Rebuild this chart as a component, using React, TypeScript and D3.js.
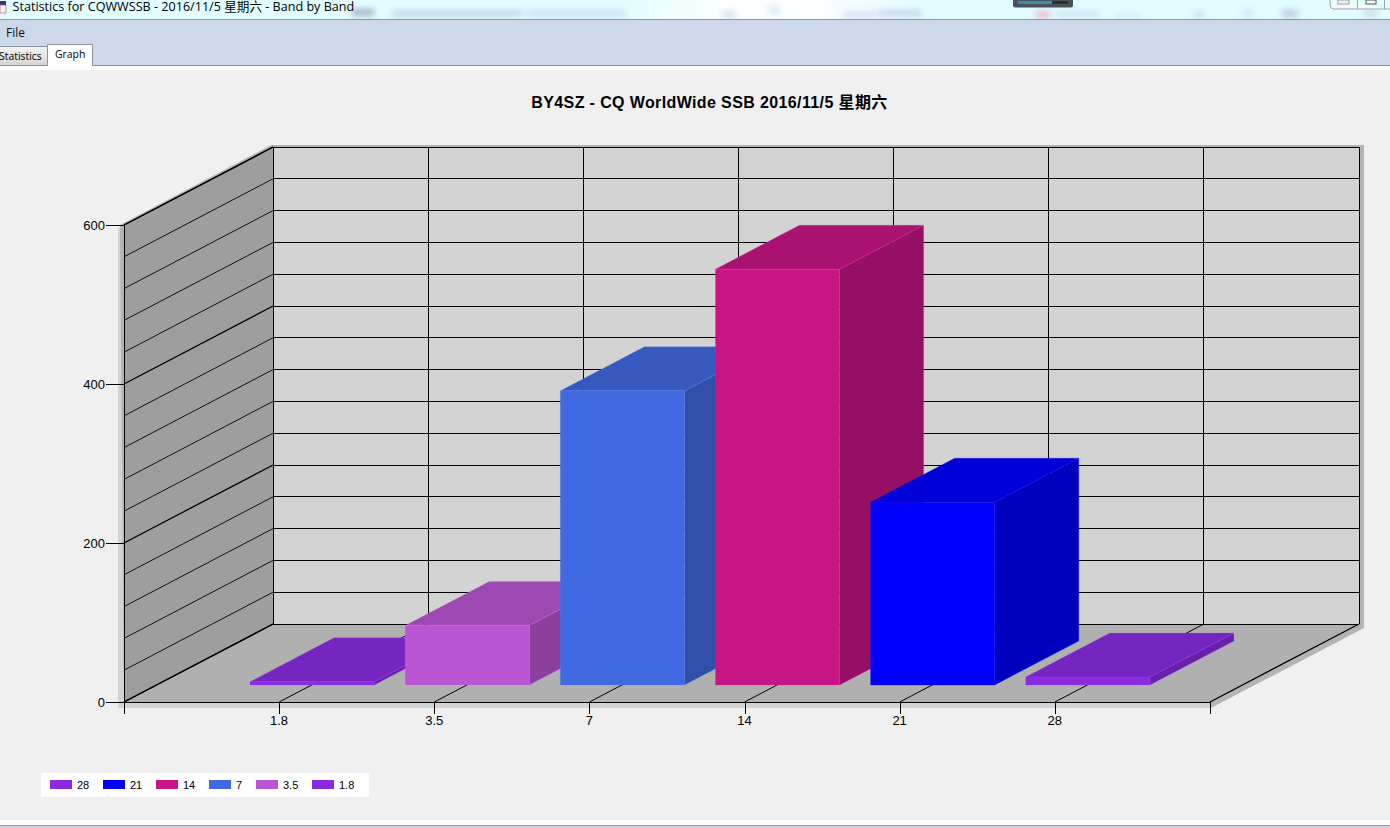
import { useEffect, useRef } from 'react';
import * as d3 from 'd3';

const bands = ['1.8', '3.5', '7', '14', '21', '28'];
const qsos = [4, 75, 370, 523, 230, 10];
const barColors = ['#8a2be2', '#ba55d3', '#4169e1', '#c71585', '#0000ff', '#8a2be2'];
const yMajor = [0, 200, 400, 600];
const yGrid = [0, 40, 80, 120, 160, 200, 240, 280, 320, 360, 400, 440, 480, 520, 560, 600];
const legendLabels = ['28', '21', '14', '7', '3.5', '1.8'];
const legendColors = ['#8a2be2', '#0000ff', '#c71585', '#4169e1', '#ba55d3', '#8a2be2'];

const UI_FONT = '"Open Sans", "Noto Sans CJK SC", sans-serif';
const CHART_FONT = '"Liberation Sans", "Noto Sans CJK SC", sans-serif';

const WIDTH = 1390;
const HEIGHT = 828;
const DEPTH_X = 149;
const DEPTH_Y = 78;

export default function App() {
  const chartRef = useRef<SVGGElement>(null);

  useEffect(() => {
    if (!chartRef.current) return;
    const g = d3.select(chartRef.current);
    g.selectAll('*').remove();

    // 7 slots on the axis, the bands sit on ticks 1..6
    const x = d3.scaleLinear().domain([0, 7]).range([124, 1210]);
    const y = d3.scaleLinear().domain([0, 600]).range([702, 225]);
    const project = (i: number, v: number, z: number): [number, number] => [
      x(i) + z * DEPTH_X,
      y(v) - z * DEPTH_Y,
    ];
    const poly = (pts: [number, number][]) => `M${pts.join('L')}Z`;

    const x0 = x(0);
    const x7 = x(7);
    const y0 = y(0);
    const y6 = y(600);

    // shadows
    g.append('path')
      .attr('fill', '#d3d3d3')
      .attr('d', poly([[118, y6 + 3], [x0, y6], [x0, y0], [x7, y0], [x7, y0 + 6], [118, y0 + 6]]));
    g.append('path')
      .attr('fill', '#b4b4b4')
      .attr('d', poly([
        [x0 - 4, y6], [x0 + DEPTH_X - 2, y6 - DEPTH_Y - 2], [x7 + DEPTH_X + 5, y6 - DEPTH_Y - 2],
        [x7 + DEPTH_X + 5, y0 - DEPTH_Y + 4], [x7 + 1, y0 + 6], [x7, y0], [x0, y0],
      ]));

    // walls and floor
    g.append('path')
      .attr('fill', '#d3d3d3')
      .attr('d', poly([project(0, 0, 1), project(7, 0, 1), project(7, 600, 1), project(0, 600, 1)]));
    g.append('path')
      .attr('fill', '#9e9e9e')
      .attr('d', poly([project(0, 0, 0), project(0, 0, 1), project(0, 600, 1), project(0, 600, 0)]));
    g.append('path')
      .attr('fill', '#b0b0b0')
      .attr('d', poly([project(0, 0, 0), project(7, 0, 0), project(7, 0, 1), project(0, 0, 1)]));

    // grid
    const line = d3.line();
    yGrid.forEach((v) => {
      const major = yMajor.includes(v);
      g.append('path')
        .attr('fill', 'none')
        .attr('stroke', '#000')
        .attr('stroke-width', 1)
        .attr('shape-rendering', 'crispEdges')
        .attr('d', line([project(0, v, 1), project(7, v, 1)]));
      g.append('path')
        .attr('fill', 'none')
        .attr('stroke', major ? '#000' : '#111')
        .attr('stroke-width', major ? 1.3 : 1)
        .attr('d', line([project(0, v, 0), project(0, v, 1)]));
    });
    d3.range(0, 8).forEach((i) => {
      g.append('path')
        .attr('fill', 'none')
        .attr('stroke', '#000')
        .attr('stroke-width', 1)
        .attr('shape-rendering', 'crispEdges')
        .attr('d', line([project(i, 0, 1), project(i, 600, 1)]));
      g.append('path')
        .attr('fill', 'none')
        .attr('stroke', '#000')
        .attr('stroke-width', i === 0 || i === 7 ? 1.3 : 1)
        .attr('d', line([project(i, 0, 0), project(i, 0, 1)]));
    });

    // bars, left to right so the later ones cover the earlier ones
    const zFront = 17 / DEPTH_Y;
    const zBack = 61 / DEPTH_Y;
    const half = 0.4;
    const nudge = 0.003;
    bands.forEach((_, idx) => {
      const i = idx + 1 + nudge;
      const v = qsos[idx];
      const base = d3.color(barColors[idx])!;
      const shade = (k: number) => {
        const c = d3.rgb(base);
        return d3.rgb(c.r * k, c.g * k, c.b * k).formatHex();
      };
      const edge = d3.rgb(base).brighter(0.8).formatHex();
      const bar = g.append('g').attr('stroke', edge).attr('stroke-opacity', 0.3).attr('stroke-width', 0.8);
      bar.append('path')
        .attr('fill', shade(0.75))
        .attr('d', poly([
          project(i + half, 0, zFront), project(i + half, 0, zBack),
          project(i + half, v, zBack), project(i + half, v, zFront),
        ]));
      bar.append('path')
        .attr('fill', shade(0.85))
        .attr('d', poly([
          project(i - half, v, zFront), project(i + half, v, zFront),
          project(i + half, v, zBack), project(i - half, v, zBack),
        ]));
      bar.append('path')
        .attr('fill', base.formatHex())
        .attr('d', poly([
          project(i - half, 0, zFront), project(i + half, 0, zFront),
          project(i + half, v, zFront), project(i - half, v, zFront),
        ]));
    });

    // axes
    const yAxis = g.append('g')
      .attr('transform', `translate(${x0}, 0)`)
      .call(d3.axisLeft<number>(y).tickValues(yMajor).tickSize(18).tickPadding(1).tickSizeOuter(0));
    const xAxis = g.append('g')
      .attr('transform', `translate(0, ${y0})`)
      .call(
        d3.axisBottom<number>(x)
          .tickValues(d3.range(0, 8))
          .tickFormat((d) => bands[+d - 1] ?? '')
          .tickSize(12)
          .tickPadding(2)
          .tickSizeOuter(0),
      );
    xAxis.selectAll('text').attr('dx', '-0.6px');
    [yAxis, xAxis].forEach((a) => {
      a.attr('font-family', CHART_FONT).attr('font-size', 13);
      a.selectAll('text').attr('fill', '#000');
      a.selectAll('line').attr('stroke', '#000').attr('stroke-width', 1).attr('shape-rendering', 'crispEdges');
      a.select('.domain').attr('stroke', '#000').attr('stroke-width', 1).attr('shape-rendering', 'crispEdges');
    });
    g.append('path')
      .attr('fill', 'none')
      .attr('stroke', '#000')
      .attr('stroke-width', 1.3)
      .attr('d', line([project(0, 600, 0), project(0, 600, 1)]));
  }, []);

  let legendX = 50;
  const legendItems = legendLabels.map((label, i) => {
    const textW = label.replace('.', '').length * 6 + (label.includes('.') ? 3 : 0);
    const item = { label, color: legendColors[i], x: legendX };
    legendX += 22 + 5 + textW + 14;
    return item;
  });

  return (
    <div style={{ position: 'absolute', left: 0, top: 0, width: WIDTH, height: HEIGHT }}>
      <svg width={WIDTH} height={HEIGHT} style={{ display: 'block' }}>
        <defs>
          <filter id="smudge" x="-10%" y="-200%" width="120%" height="500%">
            <feGaussianBlur stdDeviation="3" />
          </filter>
          <linearGradient id="tabOff" x1="0" y1="0" x2="0" y2="1">
            <stop offset="0" stopColor="#f4f4f4" />
            <stop offset="1" stopColor="#d4d4d4" />
          </linearGradient>
          <linearGradient id="glow" x1="0" y1="0" x2="1" y2="0">
            <stop offset="0" stopColor="#ffffff" stopOpacity={0} />
            <stop offset="0.35" stopColor="#ffffff" stopOpacity={0.9} />
            <stop offset="0.65" stopColor="#ffffff" stopOpacity={0.9} />
            <stop offset="1" stopColor="#ffffff" stopOpacity={0} />
          </linearGradient>
        </defs>

        <rect width={WIDTH} height={HEIGHT} fill="#f0f0f0" />

        {/* title bar */}
        <rect width={WIDTH} height={19} fill="#e2fdff" />
        <rect x={620} width={300} height={19} fill="url(#glow)" />
        <g filter="url(#smudge)" opacity={0.75}>
          <rect x={352} y={9} width={22} height={7} fill="#8f9bb0" />
          <rect x={392} y={11} width={130} height={5} fill="#a9bfd8" />
          <rect x={526} y={11} width={100} height={5} fill="#bccdf0" />
          <rect x={722} y={12} width={14} height={5} fill="#b4cbe2" />
          <rect x={768} y={6} width={12} height={9} fill="#cfe6f2" />
          <rect x={842} y={12} width={34} height={6} fill="#c9d6f5" />
          <rect x={878} y={10} width={44} height={7} fill="#c0cbe8" />
          <rect x={1036} y={11} width={14} height={7} fill="#eea0b8" />
          <rect x={1056} y={12} width={44} height={5} fill="#c4d6ee" />
          <rect x={1114} y={14} width={28} height={3} fill="#c4d6ee" />
          <rect x={1194} y={12} width={10} height={6} fill="#bed0e8" />
          <rect x={1242} y={9} width={12} height={8} fill="#cfe2ee" />
          <rect x={1282} y={10} width={16} height={7} fill="#a9b6cc" />
          <rect x={1364} y={11} width={14} height={6} fill="#bcc9dd" />
        </g>
        <rect x={1013} y={-3} width={60} height={10.5} rx={2} fill="#4a5258" />
        <rect x={1018} y={1} width={50} height={3} fill="#26323a" />
        <rect x={1018} y={1} width={34} height={3} fill="#3fa6d2" opacity={0.8} />
        <path d="M1330 0V5Q1330 9 1334 9H1390" fill="#f4fafa" stroke="#a0a6a8" />
        <path d="M1357.5 0V9M1384.5 0V9" stroke="#a0a6a8" fill="none" />
        <rect x={1338} y={0} width={11} height={4} fill="#f4f4f4" stroke="#9a9a9a" />
        <rect x={1366} y={0} width={10} height={4} fill="#f4f4f4" stroke="#555a60" />
        <rect x={0} y={1} width={6} height={10} fill="#2a3a78" />
        <rect x={0} y={5} width={6} height={8} fill="#f2f2f2" stroke="#c04050" strokeWidth={0.6} />
        <text x={12.5} y={11} fontFamily={UI_FONT} fontSize={12.6} fill="#000">
          Statistics for CQWWSSB - 2016/11/5 星期六 - Band by Band
        </text>

        {/* menu and tabs */}
        <rect y={19} width={WIDTH} height={47} fill="#cdd9ea" />
        <rect y={19} width={WIDTH} height={1} fill="#8e979c" />
        <text x={6} y={37} fontFamily={UI_FONT} fontSize={12} fill="#111">File</text>
        <rect y={65} width={WIDTH} height={1} fill="#8b93a3" />
        <rect y={66} width={WIDTH} height={4} fill="#ffffff" />
        <rect x={-2} y={46.5} width={49.5} height={19} fill="url(#tabOff)" stroke="#8b93a3" />
        <text x={-1} y={60} fontFamily={UI_FONT} fontSize={10.4} fill="#000">Statistics</text>
        <path d="M47.5 66V44.5H92.5V66" fill="#ffffff" stroke="#8b93a3" />
        <text x={55} y={58} fontFamily={UI_FONT} fontSize={10.4} fill="#000">Graph</text>

        <text
          x={709.5}
          y={108}
          textAnchor="middle"
          fontFamily={CHART_FONT}
          fontSize={16}
          fontWeight="bold"
          letterSpacing={0.38}
          fill="#000"
        >
          BY4SZ - CQ WorldWide SSB 2016/11/5 星期六
        </text>

        <g ref={chartRef} />

        {/* legend */}
        <rect x={41} y={773} width={328} height={24} fill="#ffffff" />
        {legendItems.map((d) => (
          <g key={d.x}>
            <rect x={d.x} y={780} width={22} height={9} fill={d.color} />
            <text x={d.x + 27} y={789} fontFamily={CHART_FONT} fontSize={11} fill="#000">
              {d.label}
            </text>
          </g>
        ))}

        {/* bottom edge of the window */}
        <rect y={820} width={WIDTH} height={5} fill="#ffffff" />
        <rect y={825} width={WIDTH} height={1.5} fill="#9a9ea6" />
        <rect y={826.5} width={WIDTH} height={1.5} fill="#cdd9ea" />
      </svg>
    </div>
  );
}
